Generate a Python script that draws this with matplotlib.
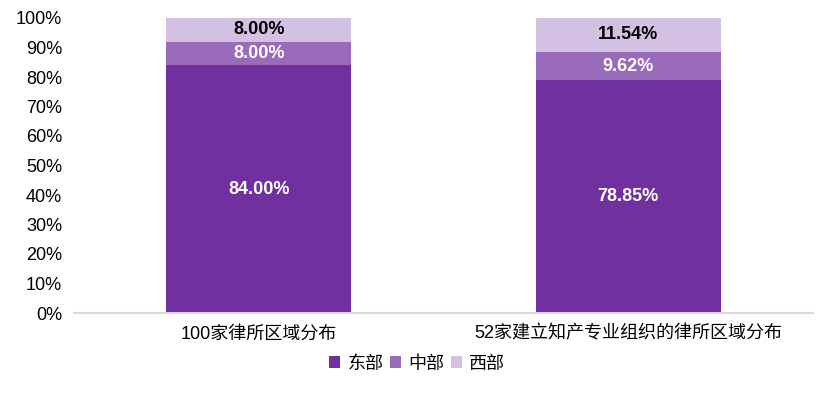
import matplotlib
matplotlib.use("Agg")
import matplotlib.pyplot as plt

plt.rcParams['font.family'] = ['Liberation Sans', 'Noto Sans CJK SC', 'DejaVu Sans']

categories = ['100家律所区域分布', '52家建立知产专业组织的律所区域分布']
series_names = ['东部', '中部', '西部']
east = [84.00, 78.85]
central = [8.00, 9.62]
west = [8.00, 11.54]
colors = ['#7030A0', '#9A6BBA', '#D4C0E2']
label_colors = ['white', 'white', 'black']

fig = plt.figure(figsize=(8.34, 3.93), dpi=100)
ax = fig.add_axes([74/834, 1-313/393, 739/834, 295/393])

x = list(range(len(categories)))
bottom = [0, 0]
for vals, name, c, lc in zip([east, central, west], series_names, colors, label_colors):
    bars = ax.bar(x, vals, width=0.5, bottom=bottom, color=c, label=name)
    for xi, v, b in zip(x, vals, bottom):
        ax.text(xi, b + v/2, f'{v:.2f}%', ha='center', va='center', color=lc,
                fontsize=13, fontweight='bold')
    bottom = [b + v for b, v in zip(bottom, vals)]

ax.set_xlim(-0.5, 1.5)
ax.set_ylim(0, 100)
ax.set_yticks(range(0, 101, 10))
ax.set_yticklabels([f'{v}%' for v in range(0, 101, 10)], fontsize=13)
ax.set_xticks(x)
ax.set_xticklabels(categories, fontsize=13)
ax.tick_params(length=0)
ax.tick_params(axis='y', pad=8.5)
ax.tick_params(axis='x', pad=9)
for s in ['top', 'right', 'left']:
    ax.spines[s].set_visible(False)
ax.spines['bottom'].set_color('#D9D9D9')
ax.spines['bottom'].set_linewidth(1.5)

fig.legend(loc='center', bbox_to_anchor=(417/834, 1-364/393), ncol=3, frameon=False,
           fontsize=13, handlelength=0.62, handleheight=0.62, handletextpad=0.4,
           columnspacing=0.35, borderaxespad=0, borderpad=0)

fig.savefig('out.png', dpi=100)
